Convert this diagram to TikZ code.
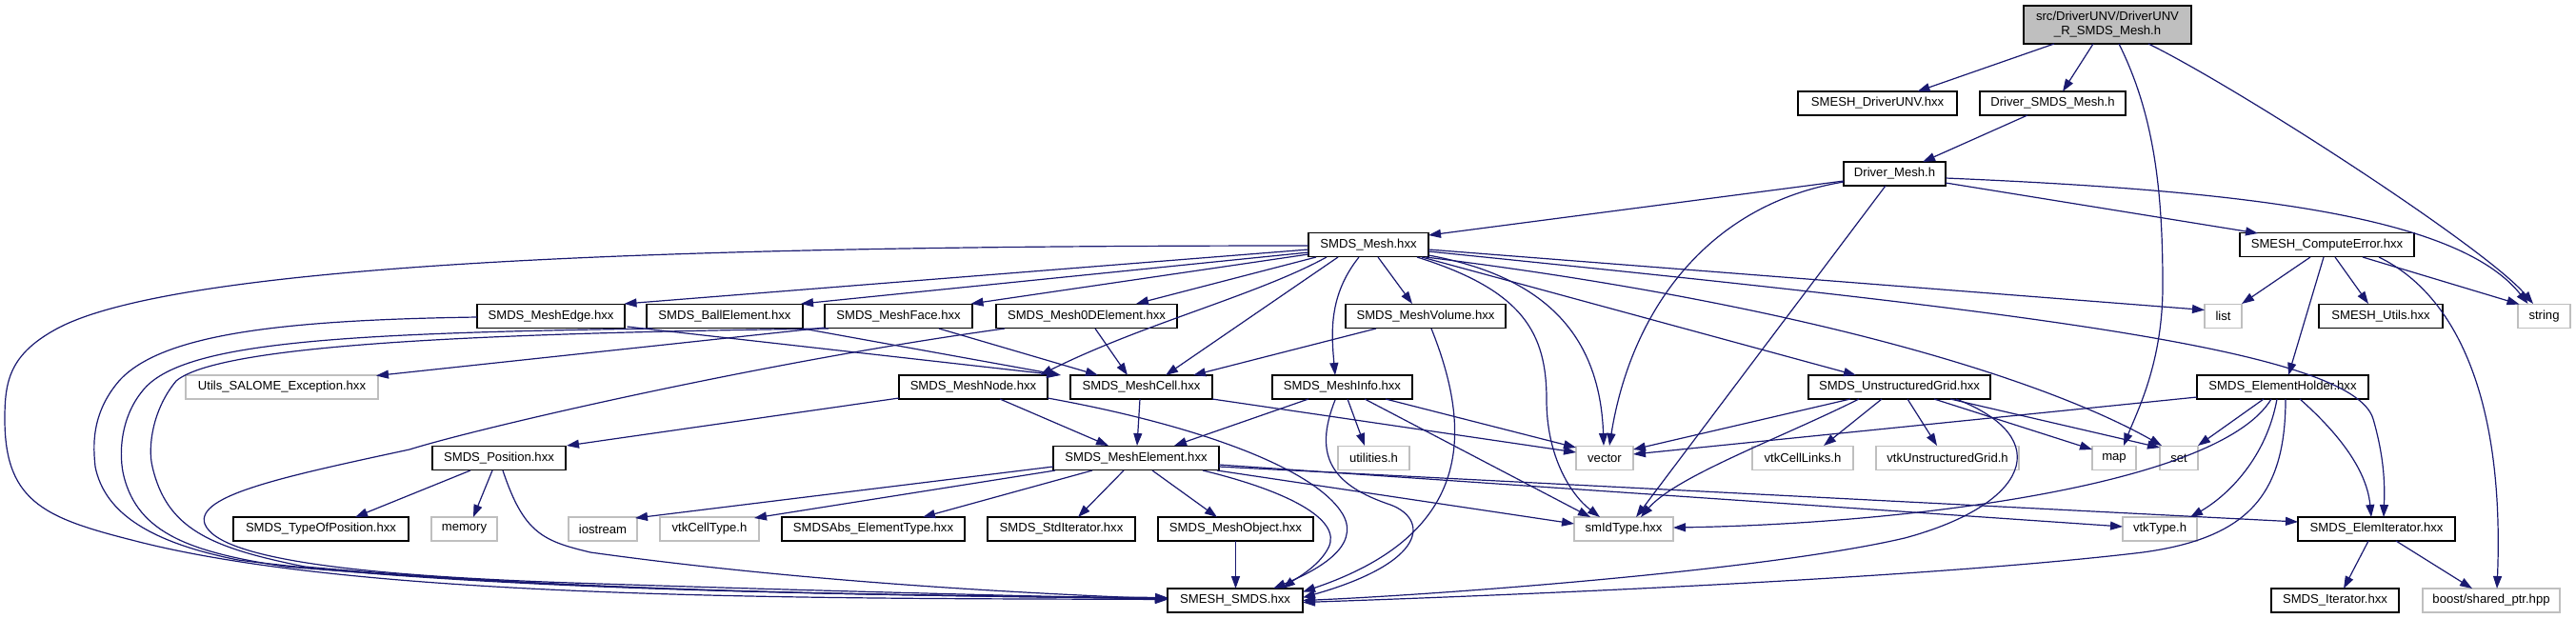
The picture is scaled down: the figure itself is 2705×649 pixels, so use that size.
\documentclass[tikz,border=0pt]{standalone}
\usepackage{fontspec}
\setmainfont{Liberation Sans}
\usetikzlibrary{arrows.meta}
\definecolor{edgec}{HTML}{191970}
\definecolor{gbord}{HTML}{BFBFBF}
\tikzset{
  nbk/.style={draw=black, line width=1.4pt, fill=white, inner sep=0pt, minimum height=25pt, font=\fontsize{13.1}{15}\selectfont},
  ngr/.style={nbk, draw=gbord},
  edg/.style={draw=edgec, line width=1.2pt, -{Triangle[length=13pt,width=9pt]}}
}
\begin{document}
\begin{tikzpicture}[x=1pt,y=-1pt]
\useasboundingbox (0,0) rectangle (2705,649);
% nodes
\node[nbk, fill=gbord, minimum width=176pt, minimum height=40pt, align=center] (main) at (2213,26) {src/DriverUNV/DriverUNV\\\_R\_SMDS\_Mesh.h};
\node[nbk, minimum width=167pt] (DU) at (1971.5,108.5) {SMESH\_DriverUNV.hxx};
\node[nbk, minimum width=153pt] (DS) at (2155.5,108.5) {Driver\_SMDS\_Mesh.h};
\node[nbk, minimum width=107pt] (DM) at (1989.5,182.5) {Driver\_Mesh.h};
\node[nbk, minimum width=126pt] (SM) at (1437,257) {SMDS\_Mesh.hxx};
\node[nbk, minimum width=183pt] (CE) at (2443.5,257) {SMESH\_ComputeError.hxx};
\node[nbk, minimum width=155pt] (ME) at (578.5,332) {SMDS\_MeshEdge.hxx};
\node[nbk, minimum width=164pt] (BE) at (761,332) {SMDS\_BallElement.hxx};
\node[nbk, minimum width=155pt] (MF) at (943.5,332) {SMDS\_MeshFace.hxx};
\node[nbk, minimum width=190pt] (ZD) at (1141,332) {SMDS\_Mesh0DElement.hxx};
\node[nbk, minimum width=168pt] (MV) at (1497,332) {SMDS\_MeshVolume.hxx};
\node[ngr, minimum width=39pt] (list) at (2334.5,332) {list};
\node[nbk, minimum width=130pt] (SU) at (2500,332) {SMESH\_Utils.hxx};
\node[ngr, minimum width=55pt] (string) at (2671.5,332) {string};
\node[ngr, minimum width=202pt] (US) at (296,406.5) {Utils\_SALOME\_Exception.hxx};
\node[nbk, minimum width=156pt] (MN) at (1022,406.5) {SMDS\_MeshNode.hxx};
\node[nbk, minimum width=149pt] (MC) at (1198.5,406.5) {SMDS\_MeshCell.hxx};
\node[nbk, minimum width=147pt] (MI) at (1409.5,406.5) {SMDS\_MeshInfo.hxx};
\node[nbk, minimum width=191pt] (UG) at (1994.5,406.5) {SMDS\_UnstructuredGrid.hxx};
\node[nbk, minimum width=180pt] (EH) at (2397,406.5) {SMDS\_ElementHolder.hxx};
\node[nbk, minimum width=140pt] (PO) at (524,481) {SMDS\_Position.hxx};
\node[nbk, minimum width=174pt] (MEl) at (1193,481) {SMDS\_MeshElement.hxx};
\node[ngr, minimum width=75pt] (util) at (1442.5,481) {utilities.h};
\node[ngr, minimum width=60pt] (vector) at (1685,481) {vector};
\node[ngr, minimum width=106pt] (vtkCL) at (1893,481) {vtkCellLinks.h};
\node[ngr, minimum width=150pt] (vtkUG) at (2045,481) {vtkUnstructuredGrid.h};
\node[ngr, minimum width=46pt] (map) at (2220,481) {map};
\node[ngr, minimum width=40pt] (set) at (2288,481) {set};
\node[nbk, minimum width=184pt] (TP) at (337,555.5) {SMDS\_TypeOfPosition.hxx};
\node[ngr, minimum width=69pt] (memory) at (487.5,555.5) {memory};
\node[ngr, minimum width=72pt] (iostream) at (633,555.5) {iostream};
\node[ngr, minimum width=104pt] (vtkCT) at (745,555.5) {vtkCellType.h};
\node[nbk, minimum width=192pt] (SA) at (917,555.5) {SMDSAbs\_ElementType.hxx};
\node[nbk, minimum width=155pt] (SI) at (1114.5,555.5) {SMDS\_StdIterator.hxx};
\node[nbk, minimum width=163pt] (MO) at (1297.5,555.5) {SMDS\_MeshObject.hxx};
\node[ngr, minimum width=104pt] (smId) at (1705,555.5) {smIdType.hxx};
\node[ngr, minimum width=78pt] (vtkT) at (2268,555.5) {vtkType.h};
\node[nbk, minimum width=165pt] (EI) at (2495.5,555.5) {SMDS\_ElemIterator.hxx};
\node[nbk, minimum width=142pt] (SS) at (1297,630.5) {SMESH\_SMDS.hxx};
\node[nbk, minimum width=134pt] (IT) at (2452,630.5) {SMDS\_Iterator.hxx};
\node[ngr, minimum width=144pt] (boost) at (2616,630.5) {boost/shared\_ptr.hpp};
% main
\draw[edg] ([shift={(-56,20)}]main.center) -- ([shift={(42,-12.5)}]DU.center);
\draw[edg] ([shift={(-15,20)}]main.center) -- ([shift={(10.5,-12.5)}]DS.center);
\draw[edg] ([shift={(12,20)}]main.center) .. controls (2262,120) and (2271,200) .. (2271,300) .. controls (2271,380) and (2245,430) .. ([shift={(10,-13)}]map.center);
\draw[edg] ([shift={(43,20)}]main.center) .. controls (2350,92) and (2610,260) .. ([shift={(-11.5,-13)}]string.center);
% DS
\draw[edg] ([shift={(-26.5,12.5)}]DS.center) -- ([shift={(29.5,-12.5)}]DM.center);
% DM
\draw[edg] ([shift={(-53.5,7.5)}]DM.center) -- ([shift={(63,-10)}]SM.center);
\draw[edg] ([shift={(53.5,9.5)}]DM.center) -- ([shift={(-72.5,-12)}]CE.center);
\draw[edg] ([shift={(53.5,4.5)}]DM.center) .. controls (2350,200) and (2580,225) .. ([shift={(-17,-13)}]string.center);
\draw[edg] ([shift={(-53.5,8.5)}]DM.center) .. controls (1790,215) and (1712,330) .. ([shift={(5,-13)}]vector.center);
\draw[edg] ([shift={(-9.5,12.5)}]DM.center) -- ([shift={(13,-12.5)}]smId.center);
% CE
\draw[edg] ([shift={(-17.5,13)}]CE.center) -- ([shift={(19.5,-13)}]list.center);
\draw[edg] ([shift={(8.5,13)}]CE.center) -- ([shift={(-13,-13)}]SU.center);
\draw[edg] ([shift={(37.5,13)}]CE.center) -- ([shift={(-26,-12.5)}]string.center);
\draw[edg] ([shift={(-3.5,13)}]CE.center) -- ([shift={(6,-12.5)}]EH.center);
\draw[edg] ([shift={(54.5,13)}]CE.center) .. controls (2580,310) and (2630,420) .. ([shift={(6,-12.5)}]boost.center);
% SM
\draw[edg] ([shift={(-63,1)}]SM.center) .. controls (800,258) and (200,270) .. (60,345) .. controls (10,372) and (5,400) .. (5,440) .. controls (5,530) and (50,545) .. (150,570) .. controls (400,632) and (900,628) .. ([shift={(-71,-1)}]SS.center);
\draw[edg] ([shift={(-63,5)}]SM.center) -- ([shift={(77,-13)}]ME.center);
\draw[edg] ([shift={(-63,8)}]SM.center) -- ([shift={(80,-13)}]BE.center);
\draw[edg] ([shift={(-63,10)}]SM.center) -- ([shift={(76,-13)}]MF.center);
\draw[edg] ([shift={(-55,13)}]SM.center) -- ([shift={(52,-13)}]ZD.center);
\draw[edg] ([shift={(-44,13)}]SM.center) .. controls (1320,310) and (1200,340) .. ([shift={(70,-12.5)}]MN.center);
\draw[edg] ([shift={(-32,13)}]SM.center) -- ([shift={(25.5,-12.5)}]MC.center);
\draw[edg] ([shift={(-10,13)}]SM.center) .. controls (1395,310) and (1398,350) .. ([shift={(-7.5,-12.5)}]MI.center);
\draw[edg] ([shift={(10,13)}]SM.center) -- ([shift={(-14,-13)}]MV.center);
\draw[edg] ([shift={(63,11)}]SM.center) .. controls (1620,290) and (1680,350) .. ([shift={(-1,-13)}]vector.center);
\draw[edg] ([shift={(51,13)}]SM.center) .. controls (1600,305) and (1624,350) .. (1624,420) .. controls (1624,480) and (1650,520) .. ([shift={(-25,-12.5)}]smId.center);
\draw[edg] ([shift={(63,5)}]SM.center) -- ([shift={(-19.5,-6.5)}]list.center);
\draw[edg] ([shift={(63,7)}]SM.center) .. controls (2100,325) and (2470,365) .. (2492,440) .. controls (2505,485) and (2504,515) .. ([shift={(7.5,-12.5)}]EI.center);
\draw[edg] ([shift={(60,13)}]SM.center) .. controls (1900,320) and (2150,400) .. ([shift={(-18,-13)}]set.center);
\draw[edg] ([shift={(56,13)}]SM.center) -- ([shift={(-45.5,-12.5)}]UG.center);
% ME, BE, MF, ZD, MV
\draw[edg] ([shift={(-77.5,1)}]ME.center) .. controls (300,336) and (170,350) .. (125,400) .. controls (95,435) and (98,470) .. (100,490) .. controls (110,540) and (160,570) .. (250,588) .. controls (500,620) and (900,625) .. ([shift={(-71,-3)}]SS.center);
\draw[edg] ([shift={(80,11)}]ME.center) -- ([shift={(-86.5,-12.5)}]MC.center);
\draw[edg] ([shift={(-76,13)}]BE.center) .. controls (350,350) and (190,360) .. (150,410) .. controls (125,440) and (125,480) .. (130,500) .. controls (145,560) and (200,580) .. (300,595) .. controls (600,620) and (900,625) .. ([shift={(-71,-2)}]SS.center);
\draw[edg] ([shift={(82,13)}]BE.center) -- ([shift={(-84.5,-12.5)}]MC.center);
\draw[edg] ([shift={(-73.5,13)}]MF.center) .. controls (500,350) and (230,362) .. (185,400) .. controls (160,430) and (155,470) .. (160,490) .. controls (175,555) and (220,575) .. (320,595) .. controls (600,620) and (900,625) .. ([shift={(-71,-2)}]SS.center);
\draw[edg] ([shift={(-77.5,12)}]MF.center) -- ([shift={(99,-12)}]US.center);
\draw[edg] ([shift={(42.5,13)}]MF.center) -- ([shift={(-45.5,-12.5)}]MC.center);
\draw[edg] ([shift={(-86,13)}]ZD.center) .. controls (800,380) and (500,450) .. (430,472) .. controls (300,500) and (205,520) .. (215,550) .. controls (230,590) and (400,605) .. (600,612) .. controls (900,622) and (1100,626) .. ([shift={(-71,-1)}]SS.center);
\draw[edg] ([shift={(9,13)}]ZD.center) -- ([shift={(-14.5,-12.5)}]MC.center);
\draw[edg] ([shift={(-52,13)}]MV.center) -- ([shift={(54.5,-12.5)}]MC.center);
\draw[edg] ([shift={(6,13)}]MV.center) .. controls (1545,450) and (1550,560) .. ([shift={(71,-9)}]SS.center);
% MN, MC, MI
\draw[edg] ([shift={(-78,11.5)}]MN.center) -- ([shift={(71,-13)}]PO.center);
\draw[edg] ([shift={(28,12.5)}]MN.center) -- ([shift={(-29,-13)}]MEl.center);
\draw[edg] ([shift={(78,11.5)}]MN.center) .. controls (1250,445) and (1380,490) .. (1410,540) .. controls (1430,575) and (1380,600) .. ([shift={(40,-12.5)}]SS.center);
\draw[edg] ([shift={(-1.5,12.5)}]MC.center) -- ([shift={(1,-13)}]MEl.center);
\draw[edg] ([shift={(74.5,12.5)}]MC.center) -- ([shift={(-30,-6)}]vector.center);
\draw[edg] ([shift={(-35.5,12.5)}]MI.center) -- ([shift={(40,-13)}]MEl.center);
\draw[edg] ([shift={(5.5,12.5)}]MI.center) -- ([shift={(-9.5,-13)}]util.center);
\draw[edg] ([shift={(45.5,12.5)}]MI.center) -- ([shift={(-30,-11)}]vector.center);
\draw[edg] ([shift={(23.5,12.5)}]MI.center) -- ([shift={(-35,-12.5)}]smId.center);
\draw[edg] ([shift={(-7.5,13.5)}]MI.center) .. controls (1378,480) and (1400,510) .. (1460,530) .. controls (1500,545) and (1500,590) .. ([shift={(71,-3)}]SS.center);
% UG
\draw[edg] ([shift={(-51.5,12.5)}]UG.center) -- ([shift={(30,-9)}]vector.center);
\draw[edg] ([shift={(-42.5,12.5)}]UG.center) .. controls (1870,460) and (1760,500) .. ([shift={(18,-12.5)}]smId.center);
\draw[edg] ([shift={(-18.5,12.5)}]UG.center) -- ([shift={(22,-13)}]vtkCL.center);
\draw[edg] ([shift={(8.5,12.5)}]UG.center) -- ([shift={(-11,-13)}]vtkUG.center);
\draw[edg] ([shift={(36.5,12.5)}]UG.center) -- ([shift={(-23,-9)}]map.center);
\draw[edg] ([shift={(53.5,12.5)}]UG.center) -- ([shift={(-20,-11)}]set.center);
\draw[edg] ([shift={(59.5,12.5)}]UG.center) .. controls (2160,460) and (2130,530) .. (2000,565) .. controls (1850,600) and (1500,625) .. ([shift={(71,0)}]SS.center);
% EH
\draw[edg] ([shift={(-90,10.5)}]EH.center) -- ([shift={(30,-4)}]vector.center);
\draw[edg] ([shift={(-20,12.5)}]EH.center) -- ([shift={(20,-13)}]set.center);
\draw[edg] ([shift={(-6,12.5)}]EH.center) .. controls (2380,480) and (2340,520) .. ([shift={(32,-12.5)}]vtkT.center);
\draw[edg] ([shift={(18,12.5)}]EH.center) .. controls (2450,450) and (2485,490) .. ([shift={(-5.5,-12.5)}]EI.center);
\draw[edg] ([shift={(-12,12.5)}]EH.center) .. controls (2330,510) and (2000,550) .. ([shift={(52,-1.5)}]smId.center);
\draw[edg] ([shift={(3,12.5)}]EH.center) .. controls (2400,520) and (2360,565) .. (2250,580) .. controls (2000,610) and (1500,628) .. ([shift={(71,2)}]SS.center);
% PO
\draw[edg] ([shift={(-30,13)}]PO.center) -- ([shift={(36,-12.5)}]TP.center);
\draw[edg] ([shift={(-7,13)}]PO.center) -- ([shift={(9.5,-12.5)}]memory.center);
\draw[edg] ([shift={(4,13)}]PO.center) .. controls (550,560) and (570,568) .. (620,580) .. controls (800,605) and (1000,620) .. ([shift={(-71,-1.5)}]SS.center);
% MEl
\draw[edg] ([shift={(-87,9)}]MEl.center) -- ([shift={(34,-11.5)}]iostream.center);
\draw[edg] ([shift={(-85,13)}]MEl.center) -- ([shift={(47,-11.5)}]vtkCT.center);
\draw[edg] ([shift={(-46,13)}]MEl.center) -- ([shift={(52,-12.5)}]SA.center);
\draw[edg] ([shift={(-13,13)}]MEl.center) -- ([shift={(17.5,-12.5)}]SI.center);
\draw[edg] ([shift={(17,13)}]MEl.center) -- ([shift={(-19.5,-12.5)}]MO.center);
\draw[edg] ([shift={(85,13)}]MEl.center) -- ([shift={(-52,-5.5)}]smId.center);
\draw[edg] ([shift={(87,7)}]MEl.center) -- ([shift={(-39,-2.5)}]vtkT.center);
\draw[edg] ([shift={(87,9)}]MEl.center) -- ([shift={(-82.5,-7.5)}]EI.center);
\draw[edg] ([shift={(70,13)}]MEl.center) .. controls (1350,515) and (1410,545) .. (1395,575) .. controls (1385,595) and (1360,608) .. ([shift={(50,-12.5)}]SS.center);
% MO, EI
\draw[edg] ([shift={(0,12.5)}]MO.center) -- ([shift={(0.5,-12.5)}]SS.center);
\draw[edg] ([shift={(-8.5,12.5)}]EI.center) -- ([shift={(9,-12.5)}]IT.center);
\draw[edg] ([shift={(20.5,12.5)}]EI.center) -- ([shift={(-20,-12.5)}]boost.center);
\end{tikzpicture}
\end{document}
